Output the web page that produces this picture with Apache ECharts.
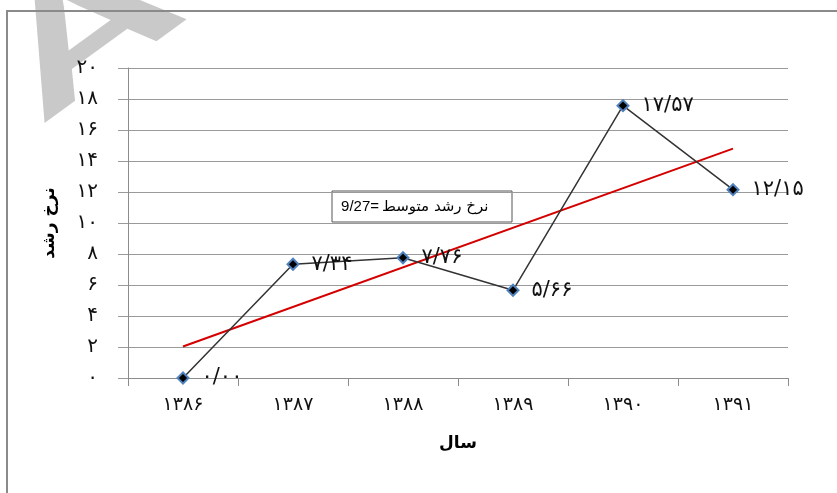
<!DOCTYPE html>
<html>
<head>
<meta charset="utf-8">
<script src="https://cdn.jsdelivr.net/npm/echarts@6/dist/echarts.min.js"></script>
<style>
html,body{margin:0;padding:0;background:#fff;}
#chart{width:837px;height:493px;}
</style>
</head>
<body>
<div id="chart"></div>
<script>
// ---- data ----
var years = ['۱۳۸۶', '۱۳۸۷', '۱۳۸۸', '۱۳۸۹', '۱۳۹۰', '۱۳۹۱'];
var growthRate = [0, 7.34, 7.76, 5.66, 17.57, 12.15];
var growthLabels = ['۰/۰۰', '۷/۳۴', '۷/۷۶', '۵/۶۶', '۱۷/۵۷', '۱۲/۱۵'];
var trendValues = [2.03, null, null, null, null, 14.80];
var yTickLabels = ['۰', '۲', '۴', '۶', '۸', '۱۰', '۱۲', '۱۴', '۱۶', '۱۸', '۲۰'];
var avgValueText = '9/27=';
var avgNameText = 'نرخ رشد متوسط';
var xTitle = 'سال';
var yTitle = 'نرخ رشد';

var FONT = "'DejaVu Sans', 'Noto Sans', sans-serif";
var chart = echarts.init(document.getElementById('chart'), null, {renderer: 'canvas'});

var option = {
  backgroundColor: '#fff',
  animation: false,
  grid: {left: 128, right: 49, top: 68, bottom: 115, containLabel: false},
  xAxis: {
    type: 'category',
    data: years,
    boundaryGap: true,
    name: xTitle,
    nameLocation: 'middle',
    nameGap: 57,
    nameTextStyle: {fontFamily: FONT, fontSize: 17, fontWeight: 'bold', color: '#000'},
    axisLine: {show: true, lineStyle: {color: '#8c8c8c', width: 1}},
    axisTick: {show: true, alignWithLabel: false, length: 8, lineStyle: {color: '#8c8c8c'}},
    axisLabel: {margin: 18, fontFamily: FONT, fontSize: 19, color: '#111'},
    splitLine: {show: false}
  },
  yAxis: {
    type: 'value',
    min: 0, max: 20, interval: 2,
    name: yTitle,
    nameLocation: 'middle',
    nameRotate: 90,
    nameGap: 70,
    nameTextStyle: {fontFamily: FONT, fontSize: 17, fontWeight: 'bold', color: '#000'},
    axisLine: {show: true, lineStyle: {color: '#8c8c8c', width: 1}},
    axisTick: {show: true, length: 10, lineStyle: {color: '#9a9a9a'}},
    axisLabel: {
      margin: 30, fontFamily: FONT, fontSize: 20, color: '#111',
      formatter: function (v) { return yTickLabels[Math.round(v / 2)]; }
    },
    splitLine: {show: true, lineStyle: {color: '#9a9a9a', width: 1}}
  },
  series: [
    {
      type: 'line',
      data: trendValues,
      connectNulls: true,
      symbol: 'none',
      lineStyle: {color: '#d40000', width: 2},
      z: 2
    },
    {
      type: 'line',
      data: growthRate,
      symbol: 'diamond',
      symbolSize: 11,
      itemStyle: {color: '#000', borderColor: '#4f81bd', borderWidth: 2},
      lineStyle: {color: '#333', width: 1.5},
      label: {
        show: true, position: 'right', distance: 12,
        fontFamily: FONT, fontSize: 21, color: '#111',
        formatter: function (p) { return growthLabels[p.dataIndex]; }
      },
      z: 3
    }
  ],
  graphic: [
    {
      type: 'text', x: -32, y: 29, originX: 0, originY: 0,
      rotation: 0.63, scaleX: 1.68, scaleY: 1, z: 0, silent: true,
      style: {text: 'A', font: 'bold 156px "Liberation Sans"', fill: '#c9c9c9',
              textBaseline: 'alphabetic', textAlign: 'left'}
    },
    {
      type: 'rect', shape: {x: 7, y: 11, width: 900, height: 600},
      style: {fill: 'none', stroke: '#8a8a8a', lineWidth: 2}, silent: true, z: 1
    },
    {
      type: 'group', x: 332, y: 191, z: 10,
      children: [
        {type: 'rect', shape: {x: 0, y: 0, width: 180, height: 31},
         style: {fill: '#fff', stroke: '#555', lineWidth: 1}},
        {type: 'text', x: 47, y: 16,
         style: {text: avgValueText, font: '15px "Liberation Sans"', fill: '#000',
                 textAlign: 'right', textVerticalAlign: 'middle'}},
        {type: 'text', x: 50, y: 16,
         style: {text: avgNameText, font: '15px "DejaVu Sans"', fill: '#000',
                 textAlign: 'left', textVerticalAlign: 'middle'}}
      ]
    }
  ]
};
chart.setOption(option);
</script>
</body>
</html>
